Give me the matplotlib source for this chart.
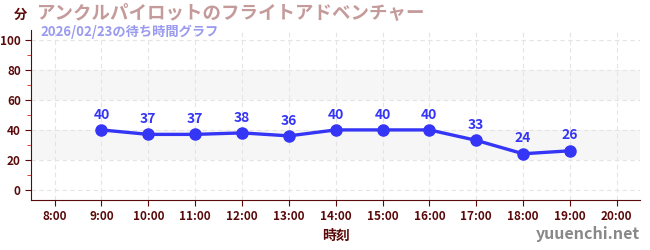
import matplotlib
matplotlib.use("Agg")
import matplotlib.pyplot as plt
from matplotlib.ticker import MultipleLocator

plt.rcParams['font.family'] = ['Noto Sans CJK JP', 'DejaVu Sans']

# data
hours = [9, 10, 11, 12, 13, 14, 15, 16, 17, 18, 19]
waits = [40, 37, 37, 38, 36, 40, 40, 40, 33, 24, 26]
tick_hours = list(range(8, 21))
tick_labels = [f"{h}:00" for h in tick_hours]

title = "アンクルパイロットのフライトアドベンチャー"
subtitle = "2026/02/23の待ち時間グラフ"

axis_col = "#5a0a0a"
line_col = "#3535f5"

fig = plt.figure(figsize=(6.5, 2.5), dpi=100)
ax = fig.add_axes([0.048, 0.2, 0.937, 0.68])

ax.set_xlim(7.5, 20.5)
ax.set_ylim(-7, 107)

# shaded bands
for lo, hi in [(20, 40), (60, 80)]:
    ax.axhspan(lo, hi, color="#f6f6f6", zorder=0, lw=0)

ax.grid(True, color="#e4e4e4", linestyle=(0, (4, 3)), linewidth=0.8, zorder=1)
ax.set_axisbelow(True)

ax.plot(hours, waits, color=line_col, linewidth=2.4, marker="o",
        markersize=8, zorder=3)
for h, w in zip(hours, waits):
    ax.annotate(str(w), (h, w), xytext=(0, 6), textcoords="offset points",
                ha="center", va="bottom", color=line_col, fontsize=10,
                fontweight="bold")

ax.set_xticks(tick_hours)
ax.set_xticklabels(tick_labels)
ax.set_yticks([0, 20, 40, 60, 80, 100])
ax.yaxis.set_minor_locator(MultipleLocator(10))
ax.tick_params(axis="y", which="minor", length=3, color="#dd2222")
ax.tick_params(axis="both", which="major", labelsize=8.5, colors=axis_col,
               length=4)
for lab in ax.get_xticklabels() + ax.get_yticklabels():
    lab.set_fontweight("bold")

for side in ["top", "right"]:
    ax.spines[side].set_visible(False)
for side in ["left", "bottom"]:
    ax.spines[side].set_color(axis_col)

ax.set_xlabel("時刻", color=axis_col, fontsize=10, fontweight="bold",
              labelpad=4)

fig.text(0.032, 0.94, "分", color=axis_col, fontsize=9.5, fontweight="bold",
         ha="center", va="center")
fig.text(0.057, 0.948, title, color="#c49a9a", fontsize=13.3,
         fontweight="bold", va="center")
fig.text(0.062, 0.872, subtitle, color="#9a9af0", fontsize=9.5,
         fontweight="bold", va="center")
fig.text(0.985, 0.03, "yuuenchi.net", color="#888888", fontsize=11.5,
         fontweight="bold", ha="right", va="bottom")

fig.savefig("out.png", dpi=100)
